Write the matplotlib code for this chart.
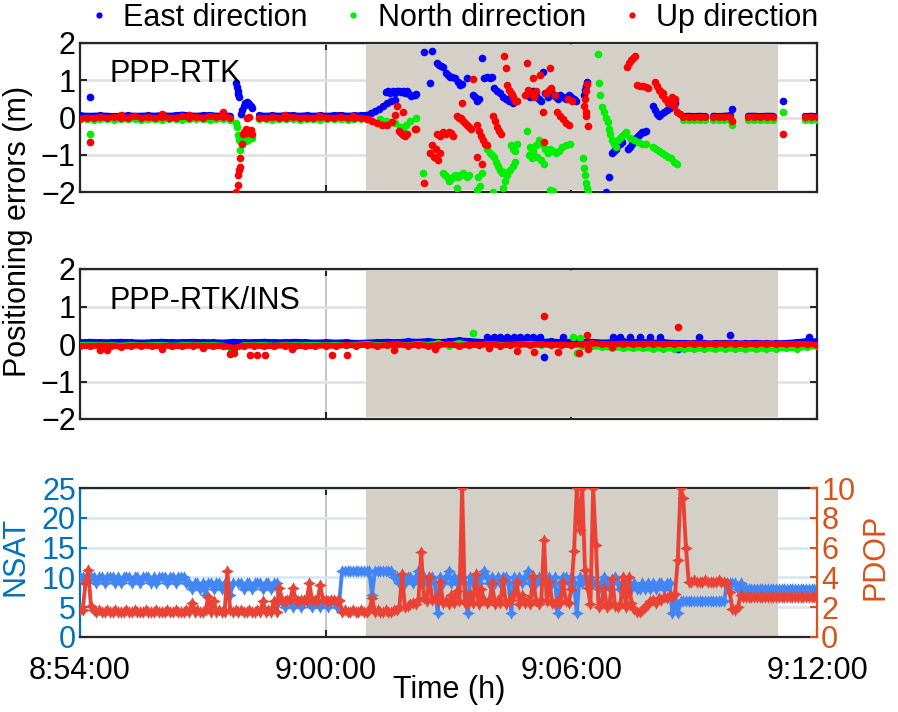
import numpy as np
import matplotlib
matplotlib.use('Agg')
import matplotlib.pyplot as plt
from matplotlib.lines import Line2D

plt.rcParams['font.family'] = ['Liberation Sans', 'DejaVu Sans']

# time axis: seconds after 8:54:00
XTICKS = [0, 360, 720, 1080]
XLABELS = ['8:54:00', '9:00:00', '9:06:00', '9:12:00']
SHADE = (419, 1023)
C_E, C_N, C_U = '#0000ff', '#00ee00', '#ff0000'

# ---------------- PPP-RTK: dense tracks (segment start, step in s)
TOP_SEGS = [(0, 10), (262, 10), (884, 8), (928, 8), (979, 9), (1062, 9)]
top_e_trk = [[0.06,0.05,0.05,0.06,0.05,0.04,0.05,0.06,0.05,0.05,0.06,0.05,0.07,0.05,0.06,0.08,0.06,0.05,0.06,0.07,0.05,0.06,0.05],
             [0.06,0.05,0.06,0.05,0.07,0.06,0.05,0.06,0.05,0.06,0.05,0.06,0.07,0.05,0.06,0.06,0.08],
             [0.04,0.05,0.04,0.05,0.04], [0.05,0.04,0.05,0.06], [0.05,0.05,0.04,0.05,0.05], [0.04,0.05,0.04]]
top_n_trk = [[-0.04,-0.05,-0.06,-0.05,-0.04,-0.06,-0.05,-0.05,-0.04,-0.06,-0.05,-0.05,-0.06,-0.04,-0.05,-0.06,-0.05,-0.04,-0.05,-0.06,-0.05,-0.04,-0.06],
             [-0.05,-0.04,-0.06,-0.05,-0.05,-0.04,-0.06,-0.05,-0.05,-0.06,-0.04,-0.05,-0.05,-0.06,-0.05,-0.04,-0.05],
             [-0.07,-0.08,-0.07,-0.08,-0.07], [-0.08,-0.07,-0.08,-0.07], [-0.08,-0.08,-0.07,-0.08,-0.08], [-0.06,-0.07,-0.06]]
top_u_trk = [[-0.03,0.0,-0.02,0.01,-0.01,0.02,-0.02,0.0,0.03,-0.01,0.01,-0.02,0.02,0.0,-0.01,0.03,0.0,0.02,-0.01,0.04,0.01,0.02,0.0],
             [0.0,-0.02,0.01,-0.01,0.0,0.02,-0.01,0.0,-0.02,0.01,0.0,-0.01,0.01,-0.02,0.0,-0.01,-0.04],
             [0.01,0.02,0.01,0.02,0.01], [0.02,0.01,0.02,0.01], [0.02,0.02,0.01,0.02,0.02], [0.01,0.02,0.01]]

# PPP-RTK: scattered epochs
top_e_t = [15,228,230,231,232,233,236,238,240,242,244,246,248,250,252,
           426,432,438,444,450,456,462,448,452,455,458,461,464,467,470,473,476,479,482,485,491,493,
           504,516,513,523,526,529,532,536,539,542,545,550,554,557,560,567,
           576,579,582,585,589,592,596,601,604,607,611,616,620,624,629,633,635,
           655,659,664,668,673,676,678,681,686,690,693,698,700,703,708,712,716,720,724,727,
           739,740,742,743,771,775,780,782,785,788,791,794,
           803,806,809,812,815,818,821,824,826,829,
           840,843,846,849,851,856,860,865,869,872,955,1030]
top_e_v = [0.55,0.92,0.82,0.72,0.62,0.55,0.1,0.2,0.3,0.38,0.42,0.4,0.35,0.3,0.25,
           0.12,0.18,0.22,0.3,0.39,0.45,0.47,0.68,0.72,0.65,0.7,0.66,0.72,0.7,0.68,0.72,0.67,0.7,0.64,0.58,0.6,0.62,
           1.76,1.78,0.93,1.45,1.42,1.38,1.35,1.2,1.15,1.1,1.08,1.05,0.95,0.87,0.9,1.06,
           0.6,0.55,0.45,0.5,1.6,1.05,1.08,1.05,1.1,0.8,0.7,0.65,0.55,0.5,0.45,0.6,0.4,
           0.6,0.55,0.7,0.6,0.5,0.45,1.22,0.65,0.55,0.7,0.6,0.55,0.5,0.6,0.55,0.5,0.6,0.55,0.5,0.45,
           0.6,0.75,0.85,0.95,-2.0,-1.6,-0.95,-0.9,-0.85,-0.75,-0.7,-0.65,
           -0.85,-0.8,-0.7,-0.6,-0.55,-0.5,-0.45,-0.4,-0.38,-0.35,
           0.3,0.2,0.1,0.05,0.1,0.15,0.2,0.25,0.35,0.4,0.22,0.44]

top_n_t = [15,228,230,231,233,234,236,238,240,243,246,249,252,
           440,448,455,462,469,473,478,484,492,503,513,
           532,535,538,541,544,547,550,554,557,561,564,567,570,553,582,586,583,589,
           596,601,604,607,610,613,616,618,621,605,620,623,626,630,635,637,632,635,638,640,
           655,659,664,668,673,677,681,686,689,693,697,702,706,712,718,658,662,670,676,680,689,693,
           737,739,740,742,743,744,759,761,762,765,768,771,774,775,777,780,783,786,788,791,794,797,800,
           806,812,818,824,829,840,844,849,853,857,862,866,870,875,955,1030]
top_n_v = [-0.45,-0.15,-0.25,-0.47,-0.6,-0.87,-0.65,-0.55,-0.6,-0.62,-0.6,-0.5,-0.55,
           -0.05,-0.1,-0.12,-0.15,-0.25,-0.3,-0.2,-0.1,0.0,-1.5,-0.95,
           -1.5,-1.55,-1.6,-1.7,-1.65,-1.6,-1.55,-1.6,-1.55,-1.5,-1.55,-1.6,-1.55,-1.9,-1.95,-1.85,-1.6,-1.5,
           -0.85,-0.95,-1.0,-1.05,-1.2,-1.3,-1.4,-1.5,-1.45,-2.0,-1.9,-1.7,-1.55,-1.4,-1.3,-1.2,-0.75,-0.85,-0.9,-0.7,
           -0.37,-0.8,-0.9,-0.75,-0.6,-0.7,-0.85,-0.95,-0.85,-0.9,-0.95,-0.9,-0.8,-0.75,-0.72,-1.0,-1.1,-1.05,-1.15,-1.25,-1.95,-1.98,
           -1.1,-1.35,-1.55,-1.75,-1.9,-2.0,1.7,0.93,0.6,0.28,0.15,0.0,-0.12,-0.3,-0.45,-0.6,-0.72,-0.78,-0.6,-0.55,-0.5,-0.45,-0.4,
           -0.55,-0.6,-0.65,-0.7,-0.72,-0.8,-0.85,-0.9,-0.95,-1.0,-1.05,-1.1,-1.2,-1.25,-0.2,0.15]

top_u_t = [15,60,120,160,210,300,350,400,
           229,231,232,233,234,235,237,239,241,243,245,248,250,252,244,247,
           421,428,435,443,450,457,462,465,467,470,473,476,479,474,491,493,
           504,513,516,519,522,525,528,523,528,532,536,541,544,547,
           553,555,558,561,564,567,570,573,560,576,582,585,588,591,594,596,582,589,
           605,608,611,614,617,621,624,626,629,632,635,637,640,
           655,664,674,689,652,657,661,665,668,683,687,690,696,715,721,
           678,699,703,708,712,717,680,740,741,743,739,741,742,744,
           802,805,807,810,813,816,821,825,829,832,
           843,846,848,853,857,862,866,870,875,879,850,854,867,872,955,1030]
top_u_v = [-0.65,0.08,0.1,0.06,0.15,0.06,0.05,0.04,
           -2.0,-1.8,-1.55,-1.4,-1.1,-1.33,-0.7,-0.45,-0.4,-0.3,-0.42,-0.35,-0.33,-0.45,0.0,0.02,
           -0.05,-0.1,-0.15,-0.2,-0.2,-0.12,0.07,0.3,-0.35,-0.42,-0.48,-0.5,-0.45,0.15,-0.3,-0.3,
           -1.77,-0.95,-0.75,-1.05,-0.85,-1.15,-0.95,-0.45,-0.5,-0.4,-0.45,-0.4,-0.42,-0.5,
           0.05,0.0,-0.02,-0.1,-0.15,-0.2,-0.25,-0.3,0.39,1.04,-0.2,-0.35,-0.5,-0.6,-0.7,-0.75,-1.06,-1.25,
           0.05,-0.1,-0.25,-0.35,-0.45,1.65,1.33,0.87,0.75,0.65,0.55,0.45,0.45,
           1.46,1.06,1.14,1.33,0.6,0.75,0.65,0.55,0.7,0.65,0.75,0.8,0.6,0.5,0.45,
           0.15,0.15,0.05,-0.05,-0.15,-0.2,-0.66,0.5,0.7,0.9,0.3,0.15,0.05,-0.23,
           1.35,1.45,1.55,1.6,1.65,0.87,0.85,0.85,0.82,0.8,
           0.95,0.85,0.75,0.6,0.5,0.4,0.45,0.3,0.15,0.1,0.7,0.65,0.55,0.5,-0.1,-0.45]

# ---------------- PPP-RTK/INS: one dense track (start, step) + scattered epochs
MID_SEG = (0, 15)
mid_e_trk = [0.05,0.06,0.05,0.05,0.06,0.05,0.04,0.05,0.06,0.05,0.05,0.06,0.05,0.05,0.04,0.06,0.05,0.05,0.06,0.05,0.05,0.06,0.05,0.04,0.05,
             0.04,0.05,0.03,0.04,0.05,0.06,0.05,0.07,0.06,0.08,0.05,0.07,0.1,0.08,0.06,0.05,0.07,0.06,0.05,0.08,0.06,0.07,0.05,0.06,
             0.05,0.06,0.04,0.05,0.07,0.05,0.06,0.04,0.05,0.03,0.03,0.02,0.02,0.02,0.03,0.02,0.02,0.03,0.02,0.02,0.03,0.05,0.08,0.07]
mid_n_trk = [-0.02,-0.03,-0.02,-0.03,-0.04,-0.02,-0.03,-0.03,-0.02,-0.04,-0.03,-0.02,-0.03,-0.03,-0.04,-0.15,-0.03,-0.02,-0.03,-0.04,-0.02,-0.03,-0.03,-0.02,-0.03,
             -0.02,-0.03,-0.02,0.0,-0.03,-0.02,-0.01,-0.03,0.0,-0.02,0.02,-0.04,0.03,-0.02,-0.03,0.0,-0.02,-0.03,-0.01,0.0,-0.02,-0.03,-0.02,-0.03,
             -0.04,-0.06,-0.08,-0.1,-0.1,-0.1,-0.11,-0.12,-0.12,-0.12,-0.13,-0.13,-0.12,-0.13,-0.12,-0.13,-0.13,-0.12,-0.13,-0.12,-0.1,-0.12,-0.08,-0.06]
mid_u_trk = [-0.05,-0.06,-0.04,-0.05,-0.07,-0.05,-0.04,-0.06,-0.05,-0.05,-0.06,-0.04,-0.05,-0.06,-0.05,-0.1,-0.05,-0.04,-0.06,-0.05,-0.04,-0.05,-0.06,-0.05,-0.04,
             -0.05,-0.03,-0.04,-0.02,-0.05,-0.03,-0.01,-0.04,-0.02,-0.05,-0.03,0.0,-0.05,-0.02,-0.03,0.0,-0.04,-0.02,0.0,-0.03,-0.01,-0.02,-0.03,-0.02,
             0.0,0.02,0.0,-0.01,0.01,0.0,0.0,0.01,0.0,0.0,0.0,0.01,0.0,0.0,0.01,0.0,0.0,0.0,0.01,0.0,0.0,0.0,0.0,-0.02]

mid_e_t = [680,876,596,607,615,626,636,645,655,664,674,708,781,791,806,821,835,850,907,953,1068]
mid_e_v = [-0.35,-0.13,0.2,0.18,0.2,0.19,0.2,0.18,0.2,0.2,0.19,0.2,0.2,0.18,0.2,0.19,0.2,0.18,0.2,0.23,0.18]
mid_n_t = [576,722,728,732,222]
mid_n_v = [0.29,0.18,-0.24,0.15,-0.22]
mid_u_t = [29,40,220,226,249,259,271,369,391,120,180,310,460,520,600,640,700,745,780,680,876,743,665,731]
mid_u_v = [-0.16,-0.15,-0.27,-0.25,-0.3,-0.28,-0.3,-0.3,-0.28,-0.12,-0.1,-0.12,-0.15,-0.12,-0.1,-0.18,-0.2,-0.12,-0.08,0.75,0.45,0.25,-0.2,-0.25]

# ---------------- NSAT / PDOP, 4 s epochs from 8:54:00
EPOCH = 4
nsat = ([10,10,9,10,10,10,9,10,10,9,10,10,10,9,10,9,10,10,10,9,10,10,9,10,10,10,9,10,9,10,10,10,9,10,10,9,10,10]
        + [10,9,9,8,9,9,8,9,7,9,9,8,9,9,8,9,9,7,9]
        + [np.nan]
        + [9,9,8,9,9,8,9,9,9,8,9,9,8,9,9]
        + [6,6,5,6,6,5,6,6,5,6,6,6,5,6,6,5,6,6,5,6,6,5,6]
        + [11,11,11,11,11,11,11,11,11,11,11,7,11,11,11,11,11,11,11,10,10,9]
        + [10,9,10,10,9,10,11,9,10,9,10,10,9,4,10,9,10,11,9,10,9,10,10,9,4,10,9,10,9,10,11,10,9,10,9,10,9,10,10,9,4,10,9,10,9,10,11,9,10,9,10,9]
        + [10,9,10,9,10,4,9,10,10,9,10,9,4,10,9,10,9,10,9,9,8,9,10,9,8,9,10,9,8,8,9,9,8,9,8,8,9,8,9,8,9,8,9,9,8,9,9,4,6]
        + [4,6,6,6,6,6,6,6,6,6,6,6,6,6,6,6,6,6]
        + [9,9,9,9,8,9]
        + [8,8,8,8,8,8,8,8,8,8,8,8,8,8,8,8,8,8,8,8,8,8,8,8,8,8,8,8])
pdop = ([1.8,1.8,3.6,4.5,2.1,1.8,1.7,1.8,1.7,1.7,1.8,1.7,1.7,1.8,1.7,1.7,1.7,1.8,1.7,1.7,1.8,1.7,1.7,1.7,1.8,1.7,1.7,1.7,1.8,1.7,1.7,1.7,1.8,1.7,1.7,1.8,1.7,1.7]
        + [1.7,1.8,1.7,2.3,1.7,1.8,1.7,1.7,1.8,2.7,1.7,2.4,1.7,1.8,1.7,1.7,4.4,1.8,1.7]
        + [1.8]
        + [1.7,1.8,1.7,1.7,1.8,1.7,1.7,1.8,1.7,2.4,1.7,1.8,1.7,2.4,1.7]
        + [3.3,2.5,2.4,2.5,2.5,3.3,2.5,2.4,2.5,2.5,2.4,3.6,2.5,2.5,2.4,3.5,2.5,2.5,2.4,2.5,2.5,2.4,2.5]
        + [1.7,1.8,1.7,1.7,1.8,1.7,1.7,1.8,1.7,1.7,1.8,2.6,1.7,1.8,1.7,1.7,1.8,1.7,1.7,1.8,1.8,2.0]
        + [4.2,2.0,2.1,2.2,2.3,2.2,2.5,5.7,2.6,2.4,4.0,2.5,2.6,2.4,3.7,2.3,2.4,2.2,2.8,2.3,3.1,2.4,10.0,2.3,2.2,2.9,2.3,4.2,2.2,3.2,2.5,2.3,2.4,3.6,2.2,2.5,2.3,3.8,2.2,2.4,2.5,2.9,3.7,2.2,2.8,2.3,2.5,2.2,4.1,2.4,2.2,2.5]
        + [6.5,2.4,3.7,2.3,2.2,2.5,2.3,3.7,2.4,2.3,3.2,5.8,10.0,7.2,10.0,4.5,3.3,2.2,10.0,6.2,2.0,2.2,3.3,2.0,2.2,3.9,2.1,2.0,2.2,4.0,2.0,4.0,2.3,1.9,1.7,1.7,1.8,2.0,2.2,2.4,2.5,2.3,2.6,2.5,2.7,2.6,2.8,2.7,2.9]
        + [5.2,10.0,9.3,6.0,3.7,3.7,3.8,3.7,3.7,3.7,3.8,3.7,3.7,3.7,3.7,3.8,3.7,3.7]
        + [3.6,3.0,1.9,1.8,2.0,2.8]
        + [2.7,2.7,2.7,2.7,2.7,2.7,2.7,2.7,2.7,2.7,2.7,2.7,2.7,2.7,2.7,2.7,2.7,2.7,2.7,2.7,2.7,2.7,2.7,2.7,2.7,2.7,2.7,2.7])

W, H = 898, 712
fig = plt.figure(figsize=(W / 100, H / 100), dpi=100)
L, Wd = 80 / W, 737 / W
ax1 = fig.add_axes([L, (H - 192) / H, Wd, 149 / H])
ax2 = fig.add_axes([L, (H - 419) / H, Wd, 150 / H])
ax3 = fig.add_axes([L, (H - 637) / H, Wd, 149 / H])
FS = 22
SPINE = '#262626'


def frame(ax, ygrid='#e0e0e0'):
    ax.set_xlim(0, 1080)
    ax.set_xticks(XTICKS)
    ax.set_axisbelow(True)
    ax.grid(axis='x', color='#bdbdbd', lw=1.2)
    ax.grid(axis='y', color=ygrid, lw=1.8)
    ax.tick_params(direction='in', length=5, width=1.5, labelsize=FS, top=True, right=True,
                   color=SPINE, pad=3)
    for s in ax.spines.values():
        s.set_color(SPINE)
        s.set_linewidth(1.6)


def err_panel(ax, segs, trks, dots, label):
    frame(ax)
    ax.set_ylim(-2, 2)
    ax.set_yticks([-2, -1, 0, 1, 2])
    ax.set_xticklabels([])
    ax.fill_between(SHADE, -1.94, 1.94, color='#d4d0c8', lw=0, zorder=1)
    for c, trk, (dt, dv) in zip((C_E, C_N, C_U), trks, dots):
        for (t0, step), vals in zip(segs, trk):
            t = t0 + step * np.arange(len(vals))
            ax.plot(t, vals, '-', color=c, lw=4.2, marker='o', ms=5.2, mew=0,
                    solid_capstyle='round', zorder=3)
        ax.plot(dt, dv, 'o', color=c, ms=5.5, mew=0, zorder=3)
    ax.text(0.04, 0.79, label, transform=ax.transAxes, fontsize=FS, va='center', ha='left', zorder=5)


err_panel(ax1, TOP_SEGS, (top_e_trk, top_n_trk, top_u_trk),
          ((top_e_t, top_e_v), (top_n_t, top_n_v), (top_u_t, top_u_v)), 'PPP-RTK')
err_panel(ax2, [MID_SEG], ([mid_e_trk], [mid_n_trk], [mid_u_trk]),
          ((mid_e_t, mid_e_v), (mid_n_t, mid_n_v), (mid_u_t, mid_u_v)), 'PPP-RTK/INS')

# bottom: NSAT (left) / PDOP (right)
C_L, C_R = '#0072BD', '#D95319'
frame(ax3, ygrid='#d6e6f3')
ax3.set_ylim(0, 25)
ax3.set_yticks([0, 5, 10, 15, 20, 25])
ax3.set_xticklabels(XLABELS)
ax3.tick_params(axis='x', pad=14)
ax3.tick_params(axis='y', colors=C_L, right=False)
ax3.spines['left'].set_color(C_L)
ax3.spines['right'].set_visible(False)
ax3.fill_between(SHADE, 0.2, 24.7, color='#d4d0c8', lw=0, zorder=1)
tn = EPOCH * np.arange(len(nsat))
ax3.plot(tn, nsat, '-', color='#4285F4', lw=2.8, marker=(4, 1, 0), ms=9, mew=0, zorder=3)

ax3r = ax3.twinx()
ax3r.set_xlim(0, 1080)
ax3r.set_ylim(0, 10)
ax3r.set_yticks([0, 2, 4, 6, 8, 10])
ax3r.tick_params(axis='y', direction='in', length=5, width=1.5, labelsize=FS, colors=C_R, pad=3)
for k, s in ax3r.spines.items():
    s.set_visible(k == 'right')
ax3r.spines['right'].set_color(C_R)
ax3r.spines['right'].set_linewidth(1.6)
tp = EPOCH * np.arange(len(pdop))
ax3r.plot(tp, pdop, '-', color='#EA4335', lw=2.8, marker=(4, 1, 0), ms=9, mew=0, zorder=3)

fig.text(18 / W, 1 - 231 / H, 'Positioning errors (m)', rotation=90, fontsize=FS, ha='center', va='center')
fig.text(15 / W, 1 - 556 / H, 'NSAT', rotation=90, fontsize=FS, color=C_L, ha='center', va='center')
fig.text(876 / W, 1 - 557 / H, 'PDOP', rotation=90, fontsize=FS, color=C_R, ha='center', va='center')
fig.text(449 / W, 1 - 690 / H, 'Time (h)', fontsize=FS, ha='center', va='center')

handles = [Line2D([], [], ls='', marker='o', ms=4.5, mew=0, color=c) for c in (C_E, C_N, C_U)]
fig.legend(handles, ['East direction', 'North dirrection', 'Up direction'], loc='center',
           bbox_to_anchor=(454 / W, 1 - 18 / H), ncol=3, frameon=False, fontsize=FS,
           handlelength=0.6, handletextpad=0.5, columnspacing=1.2, borderpad=0)

fig.savefig('out.png', dpi=100)
